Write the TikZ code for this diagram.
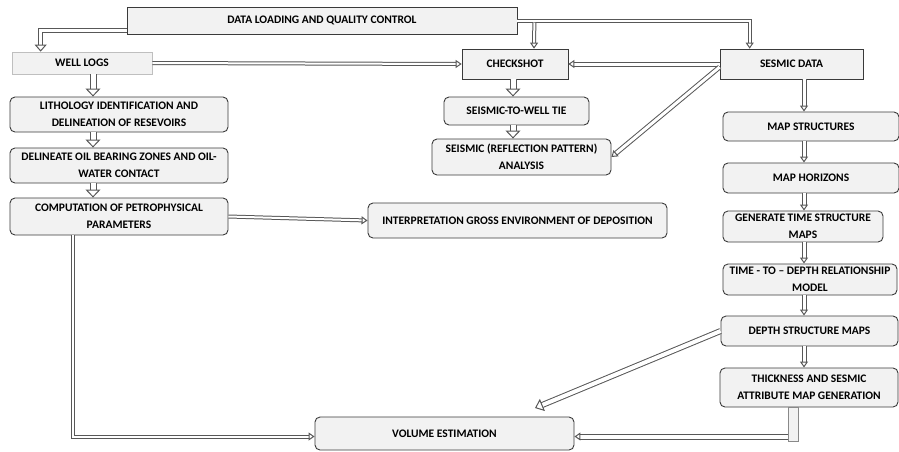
\documentclass[tikz,border=0pt]{standalone}
\usepackage{fontspec}
\setmainfont{Carlito}
\usetikzlibrary{positioning,calc,arrows.meta}
\definecolor{boxfill}{HTML}{F2F2F2}
\definecolor{linegray}{HTML}{3A3A3A}

\begin{document}
\begin{tikzpicture}[x=1pt, y=-1pt, font=\fontsize{11.5}{16.5}\selectfont\bfseries,
  sqbox/.style={draw=linegray, fill=boxfill, align=center, inner sep=1pt, line width=0.7pt},
  rndbox/.style={sqbox, rounded corners=5pt, line width=0.9pt},
  dbl/.style={draw=linegray!85, line width=1pt, double=white, double distance=2pt, -{Triangle[open, length=6pt, width=8pt]}},
  fat/.style={dbl, double distance=5pt, -{Triangle[open, length=8pt, width=15pt]}}]
\useasboundingbox (0,0) rectangle (899,451);
\newcommand{\stage}[7]{% style, name, centre x, centre y, width, height, text
  \node[#1, minimum width=#5pt, minimum height=#6pt] (#2) at (#3,#4) {#7};}
% left column: well logs
\stage{sqbox}{dlqc}{322}{20.5}{390}{27}{DATA LOADING AND QUALITY CONTROL}
\stage{sqbox, draw=black!25}{wells}{82}{63}{140}{22}{WELL LOGS}
\stage{rndbox}{litho}{119}{114.5}{218}{35}{LITHOLOGY IDENTIFICATION AND\\DELINEATION OF RESEVOIRS}
\stage{rndbox}{delin}{119}{165.5}{218}{35}{DELINEATE OIL BEARING ZONES AND OIL-\\WATER CONTACT}
\stage{rndbox}{comp}{119}{216.5}{218}{37}{COMPUTATION OF PETROPHYSICAL\\PARAMETERS}
\stage{rndbox}{interp}{517.5}{220.5}{299}{35}{INTERPRETATION GROSS ENVIRONMENT OF DEPOSITION}
% middle column: checkshot
\stage{sqbox}{check}{515}{64}{106}{30}{CHECKSHOT}
\stage{rndbox}{tie}{516.5}{111}{145}{28}{SEISMIC-TO-WELL TIE}
\stage{rndbox}{refl}{521.5}{157}{179}{36}{SEISMIC (REFLECTION PATTERN)\\ANALYSIS}
% right column: seismic
\stage{sqbox}{sesmic}{791.5}{64}{143}{30}{SESMIC DATA}
\stage{rndbox}{mapstr}{811}{126.5}{176}{29}{MAP STRUCTURES}
\stage{rndbox}{maphor}{811}{178}{176}{30}{MAP HORIZONS}
\stage{rndbox}{gents}{803}{226.5}{160}{31}{GENERATE TIME STRUCTURE\\MAPS}
\stage{rndbox}{ttd}{810}{279.5}{174}{31}{TIME - TO -- DEPTH RELATIONSHIP\\MODEL}
\stage{rndbox}{depth}{809.5}{331}{177}{30}{DEPTH STRUCTURE MAPS}
\stage{rndbox}{thick}{809}{387.5}{178}{39}{THICKNESS AND SESMIC\\ATTRIBUTE MAP GENERATION}
\stage{rndbox}{vol}{444.5}{433.5}{259}{33}{VOLUME ESTIMATION}
% arrow columns and free ends
\coordinate (lcol) at (93,0);
\coordinate (ccol) at (513,0);
\coordinate (rcol) at (804,0);
\coordinate (volhint) at (535,408);
\coordinate (barfoot) at (793,441);
% connectors
\draw[dbl, double distance=3pt, -{Triangle[open, length=7pt, width=12pt]}] ($(dlqc.west)+(0,9.5)$) -| ($(wells.north west)+(29,0)$);
\draw[dbl] (dlqc.east) -| ($(sesmic.north west)+(30,0)$);
\draw[dbl] ($(dlqc.east)+(17,2)$) -- ($(check.north)+(19,0)$);
\draw[dbl] (wells.east) -- (check.west);
\draw[dbl, double distance=3pt] (sesmic.west) -- (check.east);
\draw[dbl, double distance=3pt] ($(sesmic.west)+(0,3)$) -- (refl.east);
\foreach \a/\b in {wells/litho, litho/delin, delin/comp}
  \draw[fat] (\a.south -| lcol) -- (\b.north -| lcol);
\foreach \a/\b in {check/tie, tie/refl}
  \draw[fat] (\a.south -| ccol) -- (\b.north -| ccol);
\foreach \a/\b in {sesmic/mapstr, mapstr/maphor, maphor/gents, gents/ttd, ttd/depth, depth/thick}
  \draw[dbl, double distance=3pt] (\a.south -| rcol) -- (\b.north -| rcol);
\draw[dbl] (comp.east) -- (interp.west);
\draw[dbl] ($(comp.south west)+(63,0)$) |- ($(vol.west)+(0,3)$);
\draw[dbl, double distance=4pt, -{Triangle[open, length=8pt, width=13pt]}] (depth.west) -- (volhint);
\draw[linegray!60, line width=1pt, fill=boxfill] ($(thick.south -| barfoot)+(-5,0)$) rectangle ($(barfoot)+(5,0)$);
\draw[dbl, double distance=4pt] ($(vol.east -| barfoot)+(-5,3)$) -- ($(vol.east)+(0,3)$);
\end{tikzpicture}
\end{document}
